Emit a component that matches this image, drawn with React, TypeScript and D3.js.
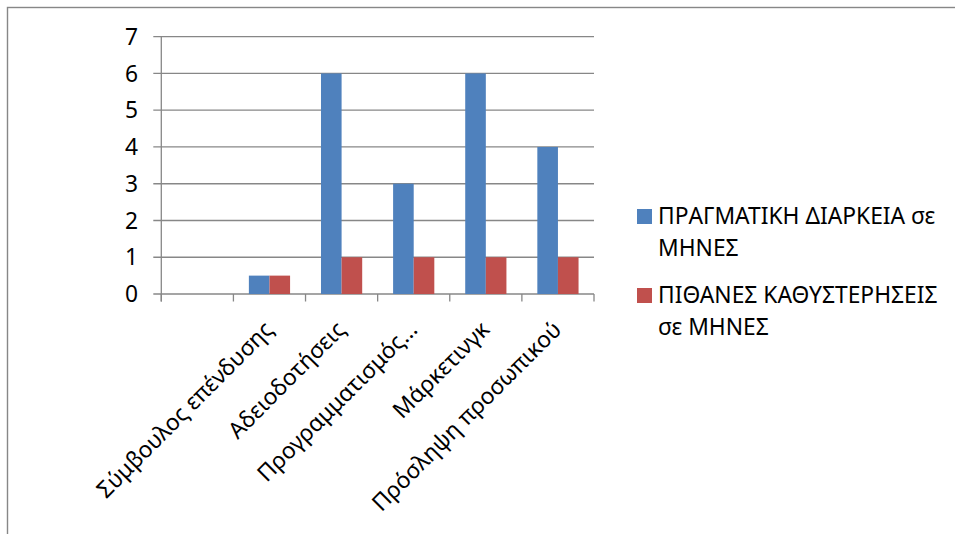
import React from "react";
import * as d3 from "d3";

// Chart data
const categories = [
  "",
  "Σύμβουλος επένδυσης",
  "Αδειοδοτήσεις",
  "Προγραμματισμός…",
  "Μάρκετινγκ",
  "Πρόσληψη προσωπικού",
];
const actualMonths = [0, 0.5, 6, 3, 6, 4];
const delayMonths = [0, 0.5, 1, 1, 1, 1];
const yTicks = [0, 1, 2, 3, 4, 5, 6, 7];
const seriesNames = [
  ["ΠΡΑΓΜΑΤΙΚΗ ΔΙΑΡΚΕΙΑ σε", "ΜΗΝΕΣ"],
  ["ΠΙΘΑΝΕΣ ΚΑΘΥΣΤΕΡΗΣΕΙΣ", "σε ΜΗΝΕΣ"],
];
const seriesColors = ["#4F81BD", "#C0504D"];

const W = 955;
const H = 534;
const FONT = "'Noto Sans', 'DejaVu Sans', sans-serif";
const FS = 22.8;
const GRID = "#878787";

export default function App() {
  const x = d3.scaleBand<string>().domain(categories.map((_, i) => String(i))).range([161.3, 594]);
  const y = d3.scaleLinear().domain([0, 7]).range([294, 36.7]);
  const bw = x.bandwidth() / 3.5;
  const series = [actualMonths, delayMonths];
  const boundaries = d3.range(categories.length + 1).map((i) => 161.3 + i * x.bandwidth());

  return (
    <svg
      width={W}
      height={H}
      style={{ position: "absolute", left: 0, top: 0, background: "#fff" }}
      fontFamily={FONT}
    >
      <rect x={7.5} y={7.5} width={W + 20} height={H + 20} fill="#fff" stroke={GRID} strokeWidth={1.4} />

      {/* gridlines and y ticks */}
      {yTicks.map((t) => (
        <g key={t}>
          <line x1={153.3} x2={594} y1={y(t)} y2={y(t)} stroke={GRID} strokeWidth={1.3} />
          <text x={138} y={y(t)} dy="0.36em" textAnchor="end" fontSize={FS} fill="#000">
            {t}
          </text>
        </g>
      ))}

      {/* y axis */}
      <line x1={161.3} x2={161.3} y1={36.7} y2={301.5} stroke={GRID} strokeWidth={1.3} />
      {/* category ticks */}
      {boundaries.map((bx, i) => (
        <line key={i} x1={bx} x2={bx} y1={294} y2={301.5} stroke={GRID} strokeWidth={1.3} />
      ))}

      {/* bars */}
      {categories.map((c, i) => {
        const cx = (x(String(i)) as number) + x.bandwidth() / 2;
        return (
          <g key={i}>
            {series.map((s, k) => (
              <rect
                key={k}
                x={cx - bw + k * bw}
                y={y(s[i])}
                width={bw}
                height={y(0) - y(s[i])}
                fill={seriesColors[k]}
              />
            ))}
          </g>
        );
      })}

      {/* category labels */}
      {categories.map((c, i) => {
        const cx = (x(String(i)) as number) + x.bandwidth() / 2;
        return (
          <text
            key={i}
            transform={`translate(${cx + 5},${331}) rotate(-45)`}
            textAnchor="end"
            fontSize={FS}
            fill="#000"
          >
            {c}
          </text>
        );
      })}

      {/* legend */}
      {seriesNames.map((lines, k) => {
        const top = k === 0 ? 209 : 288;
        return (
          <g key={k}>
            <rect x={637} y={top} width={15} height={15} fill={seriesColors[k]} />
            {lines.map((ln, j) => (
              <text key={j} x={658} y={top + 15 + j * 32} fontSize={FS} fill="#000">
                {ln}
              </text>
            ))}
          </g>
        );
      })}
    </svg>
  );
}
